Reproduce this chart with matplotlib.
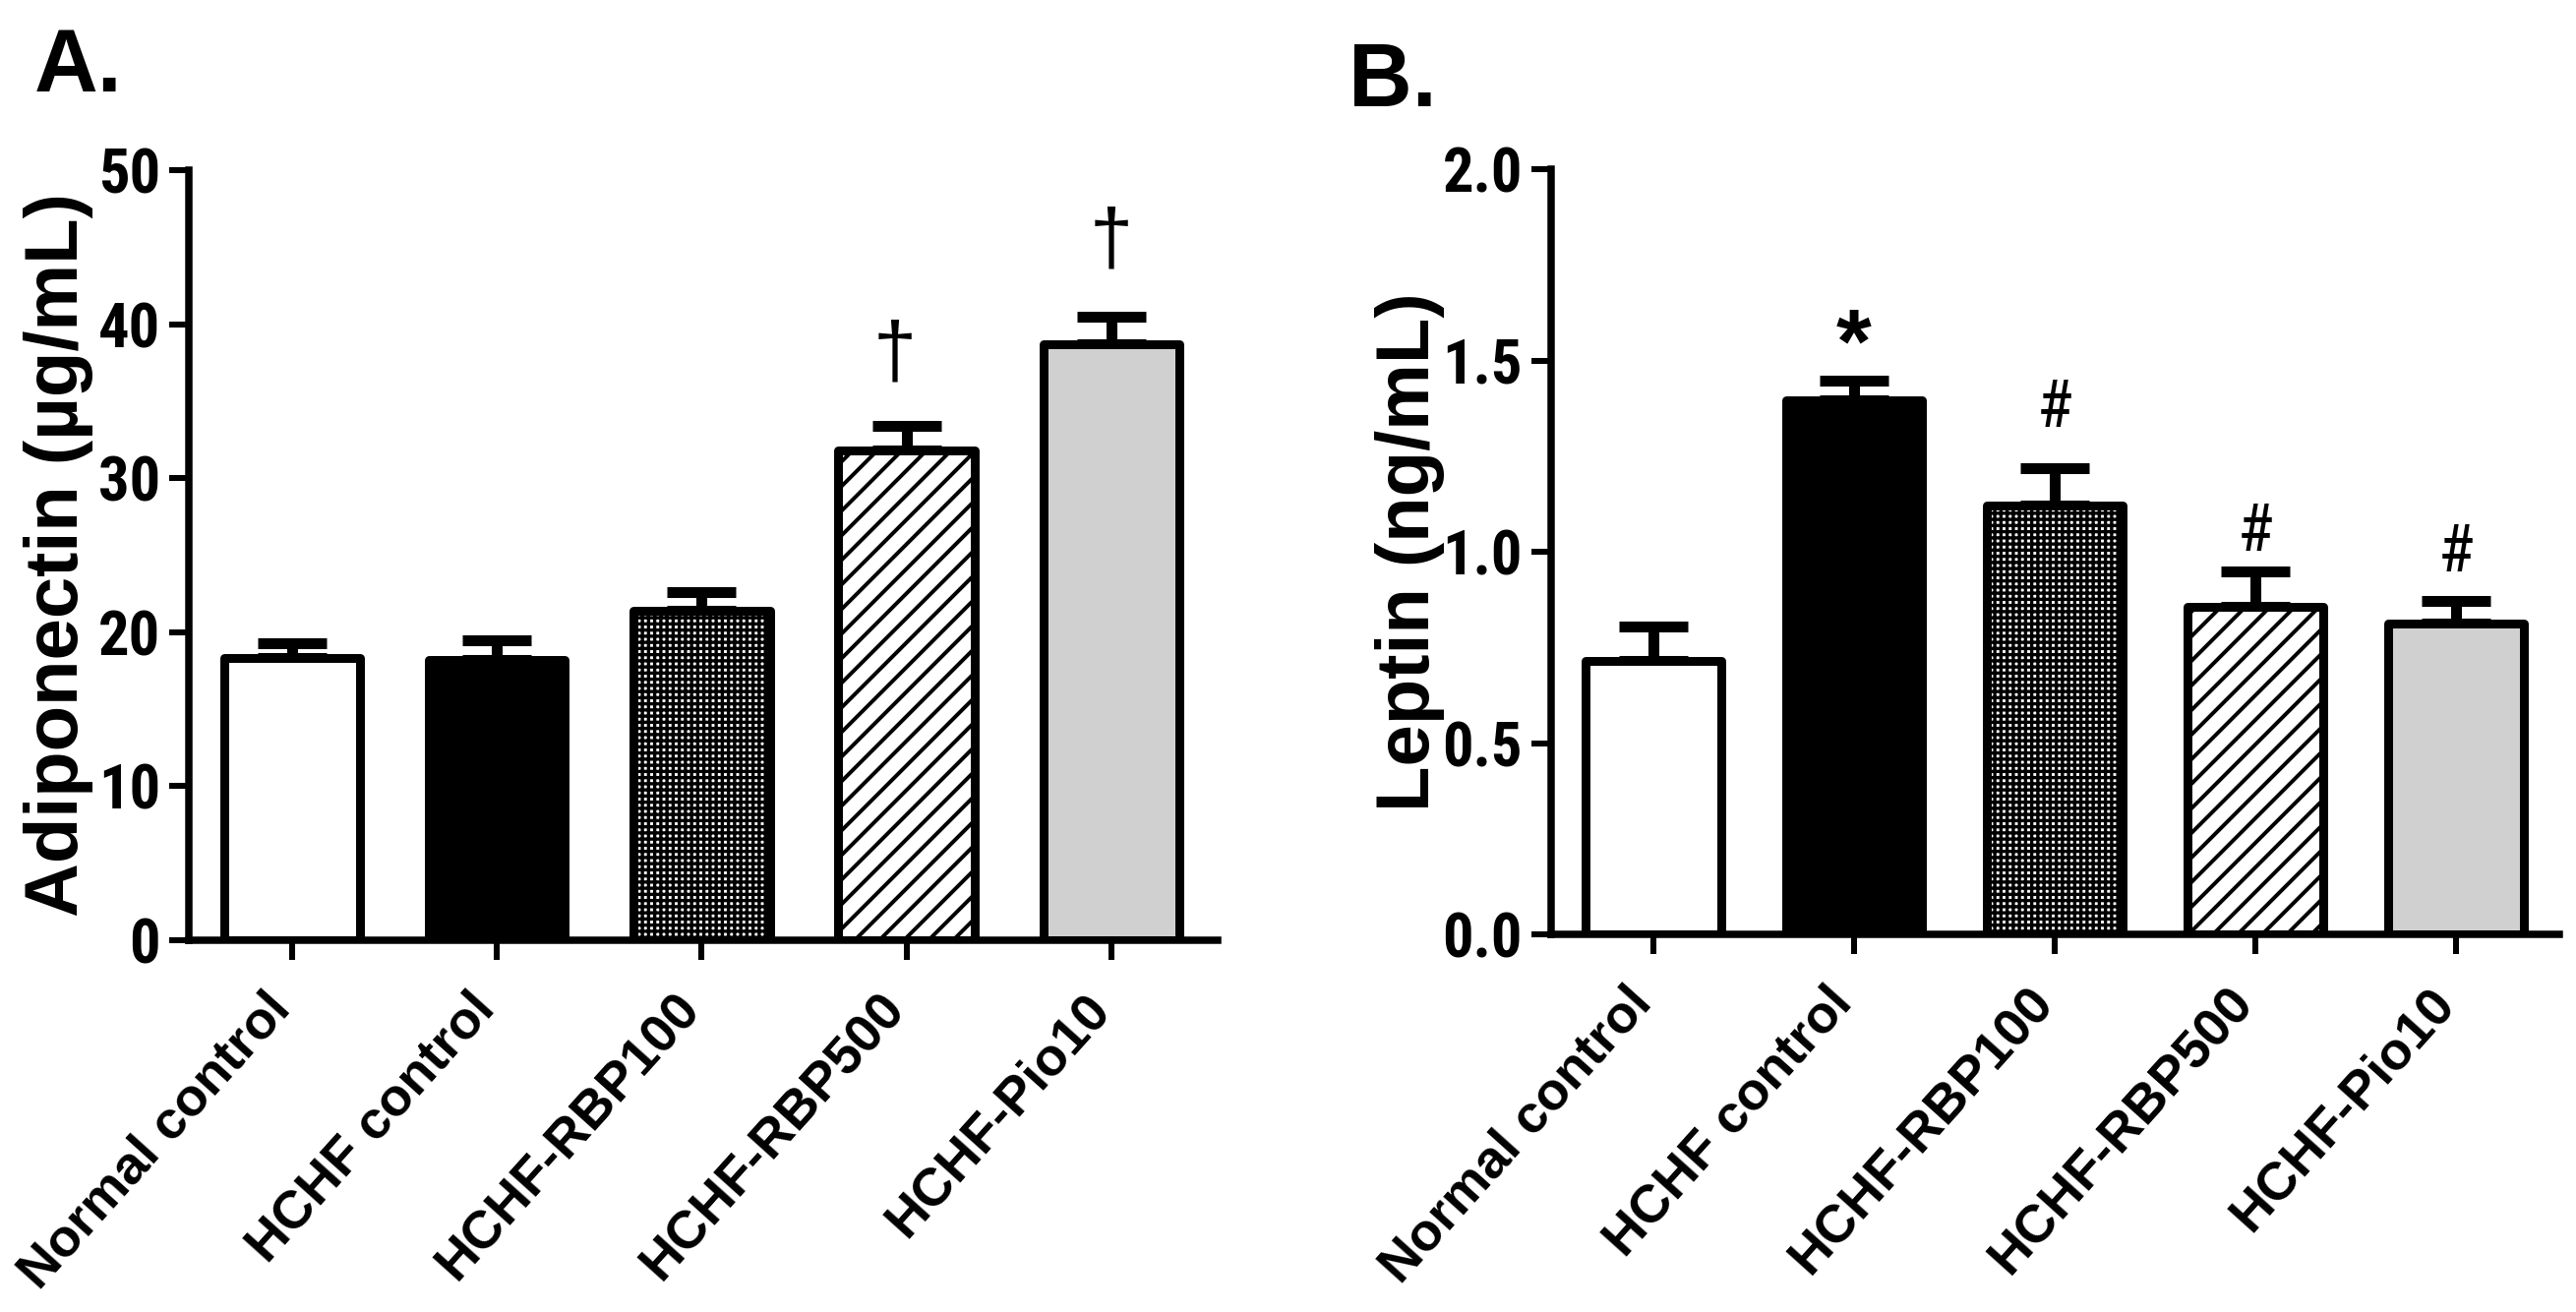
import matplotlib as mpl
import matplotlib.pyplot as plt
import numpy as np
from matplotlib import font_manager

DPI = 150
W, H = 2619, 1334

mpl.rcParams.update(
    {
        "font.family": ["Liberation Sans", "DejaVu Sans"],
        "axes.linewidth": 3.6,
        "xtick.major.size": 9.6,
        "ytick.major.size": 9.6,
        "xtick.major.width": 2.9,
        "ytick.major.width": 2.9,
        "xtick.direction": "out",
        "ytick.direction": "out",
    }
)

groups = ["Normal control", "HCHF control", "HCHF-RBP100", "HCHF-RBP500", "HCHF-Pio10"]

adipo_mean = [18.3, 18.2, 21.4, 31.8, 38.7]
adipo_sem = [1.0, 1.3, 1.2, 1.6, 1.8]
adipo_marks = ["", "", "", "\u2020", "\u2020"]
adipo_mark_y = [0, 0, 0, 37.9, 45.3]

leptin_mean = [0.715, 1.395, 1.12, 0.857, 0.813]
leptin_sem = [0.09, 0.052, 0.098, 0.092, 0.058]
leptin_marks = ["", "*", "#", "#", "#"]
leptin_mark_y = [0, 1.53, 1.373, 1.049, 0.995]

FACES = ["white", "black", "white", "white", "#d0d0d0"]
HATCHES = [None, None, "++++", "//", None]
HATCH_LW = [1.0, 1.0, 1.6, 1.9, 1.0]


def narrow_font():
    # the tick numbers in the original are a condensed face; use one if we have it
    fonts = font_manager.fontManager.ttflist
    names = {f.name for f in fonts}
    for name in ["Liberation Sans Narrow", "Arial Narrow", "DejaVu Sans Condensed", "Roboto Condensed"]:
        if name in names:
            return {"family": name}
    if any(f.name == "DejaVu Sans" and f.stretch == "condensed" for f in fonts):
        return {"family": "DejaVu Sans", "stretch": "condensed"}
    return {"family": "Liberation Sans"}


NARROW = narrow_font()


def draw_panel(ax, means, sems, width, ylim, yticks, yfmt, ylabel, label_x, xlim):
    x = np.arange(len(groups))
    ax.errorbar(x, means, yerr=[np.zeros(len(sems)), sems], fmt="none", ecolor="black",
                elinewidth=5.3, capsize=17, capthick=5.3, zorder=1)
    for i in range(len(groups)):
        mpl.rcParams["hatch.linewidth"] = HATCH_LW[i]
        bars = ax.bar(x[i], means[i], width, color=FACES[i], edgecolor="black",
                      linewidth=4.3, hatch=HATCHES[i], joinstyle="round", zorder=2)
        for b in bars:
            try:
                b.set_hatch_linewidth(HATCH_LW[i])
            except AttributeError:
                pass

    ax.set_xlim(*xlim)
    ax.set_ylim(*ylim)
    ax.set_yticks(yticks)
    ax.set_yticklabels([yfmt.format(v) for v in yticks], fontweight="bold", fontsize=30, **NARROW)
    ax.set_xticks(x)
    ax.set_xticklabels(groups, rotation=48, ha="right", va="baseline",
                       rotation_mode="anchor", fontweight="bold", fontsize=26)
    ax.tick_params(axis="y", pad=4.3)
    ax.tick_params(axis="x", pad=24.5)
    ax.spines["top"].set_visible(False)
    ax.spines["right"].set_visible(False)
    ax.set_ylabel(ylabel, fontweight="bold", fontsize=36.5)
    ax.yaxis.set_label_coords(label_x, 0.5)


fig = plt.figure(figsize=(W / DPI, H / DPI), dpi=DPI)
fig.patch.set_facecolor("white")

ax_a = fig.add_axes([192 / W, 1 - 956 / H, 1046 / W, 783 / H])
draw_panel(ax_a, adipo_mean, adipo_sem, 0.665, (0, 50), [0, 10, 20, 30, 40, 50], "{:.0f}",
           "Adiponectin (\u00b5g/mL)", -0.093, (-0.504, 4.519))
for i, (m, y) in enumerate(zip(adipo_marks, adipo_mark_y)):
    if m:
        dx = -0.06 if i == 3 else 0.0
        ax_a.text(i + dx, y, m, ha="center", va="center", fontsize=38)

ax_b = fig.add_axes([1577 / W, 1 - 950 / H, 1025 / W, 778 / H])
draw_panel(ax_b, leptin_mean, leptin_sem, 0.675, (0, 2.0), [0, 0.5, 1.0, 1.5, 2.0], "{:.1f}",
           "Leptin (ng/mL)", -0.105, (-0.51, 4.515))
for i, (m, y) in enumerate(zip(leptin_marks, leptin_mark_y)):
    if m == "*":
        ax_b.text(i, y, m, ha="center", va="center", fontsize=44, fontweight="bold")
    elif m:
        ax_b.text(i, y, m, ha="center", va="center", fontsize=32, **NARROW)

fig.text(35 / W, 1 - 93 / H, "A.", ha="left", va="baseline", fontsize=43, fontweight="bold")
fig.text(1371 / W, 1 - 108 / H, "B.", ha="left", va="baseline", fontsize=43, fontweight="bold")

fig.savefig("out.png", dpi=DPI, facecolor="white")
